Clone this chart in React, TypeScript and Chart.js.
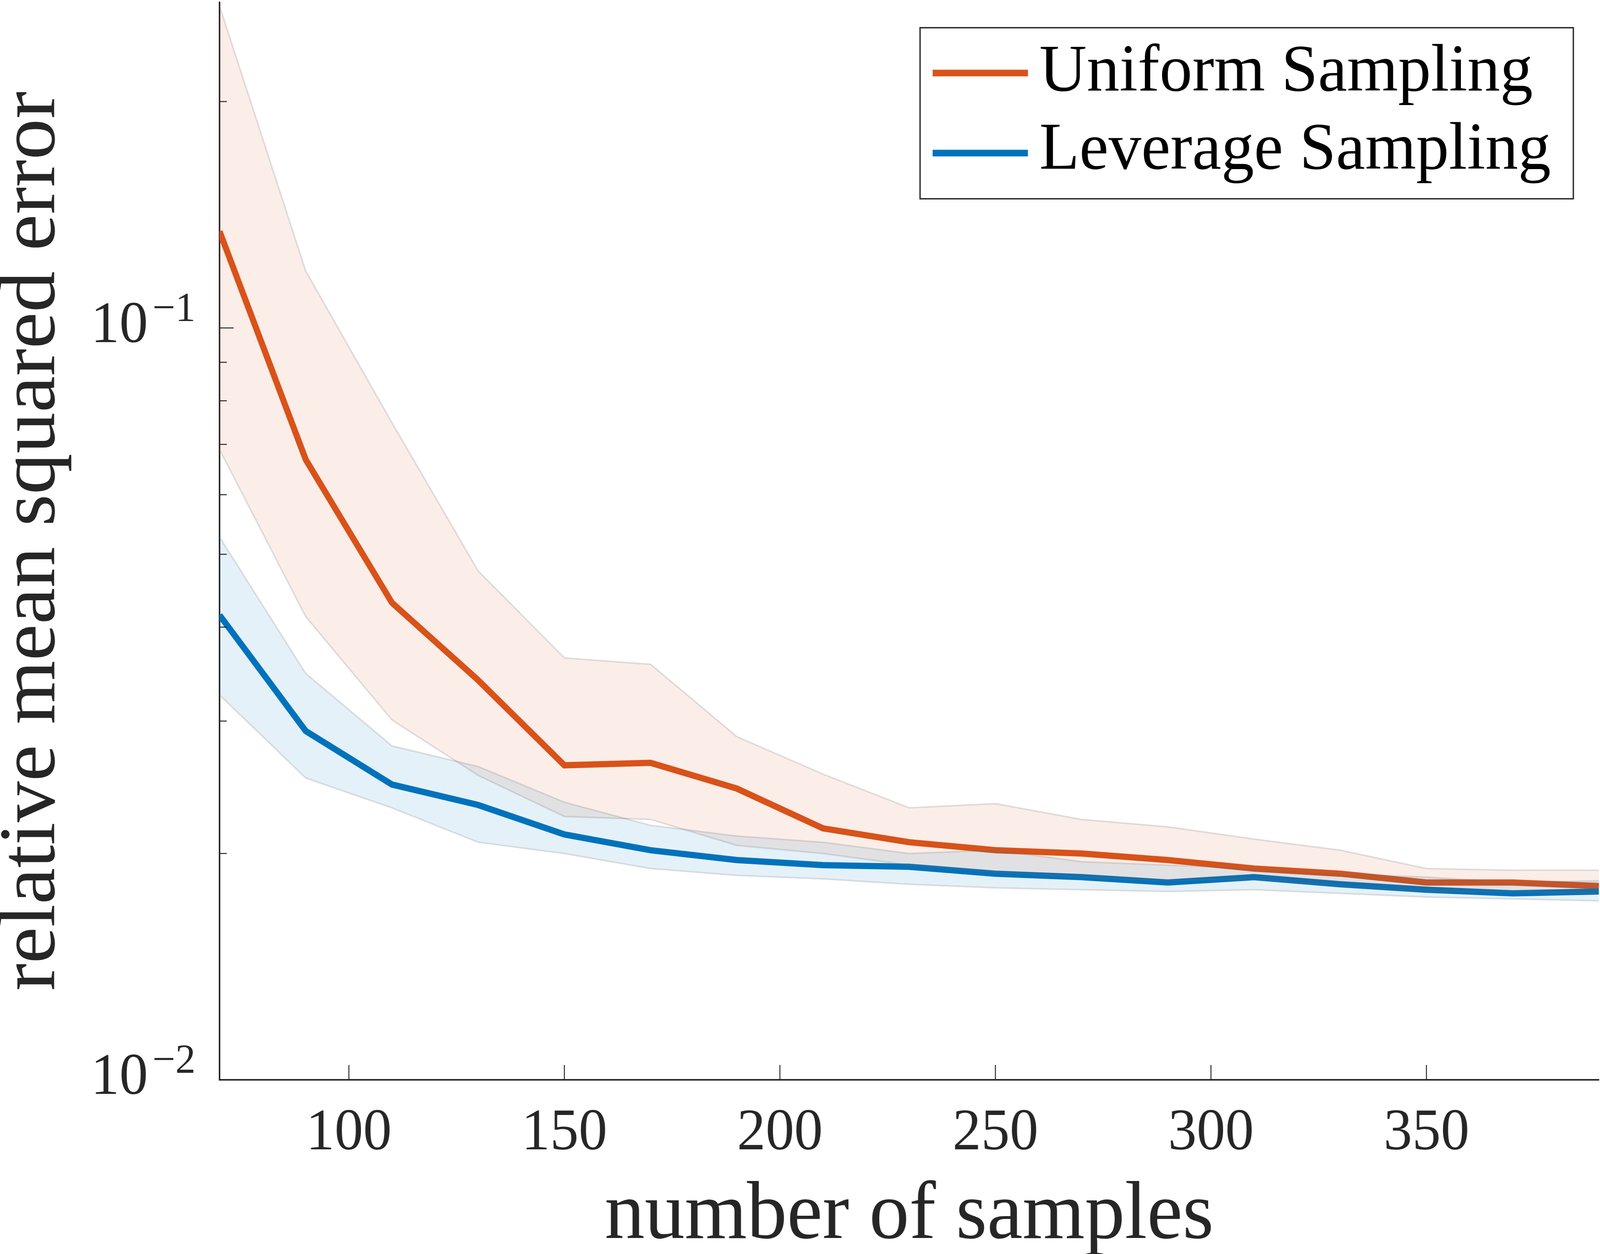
import { useEffect, useRef } from 'react';
import { Chart, registerables } from 'chart.js';
Chart.register(...registerables);

// sample counts on the x axis
const sampleCounts = [70, 90, 110, 130, 150, 170, 190, 210, 230, 250, 270, 290, 310, 330, 350, 370, 390];

// uniform sampling: mean and band
const uniformMean = [0.1344, 0.0668, 0.0431, 0.034, 0.0262, 0.0264, 0.0244, 0.0216, 0.0207, 0.0202, 0.02, 0.0196, 0.0191, 0.0188, 0.0183, 0.0183, 0.0181];
const uniformUpper = [0.268, 0.119, 0.0748, 0.0475, 0.0364, 0.0357, 0.0286, 0.0255, 0.023, 0.0233, 0.0222, 0.0217, 0.0209, 0.0202, 0.0191, 0.019, 0.019];
const uniformLower = [0.0689, 0.0413, 0.0301, 0.0254, 0.0224, 0.0222, 0.0205, 0.02, 0.0193, 0.0189, 0.0186, 0.0184, 0.0185, 0.0181, 0.0178, 0.0178, 0.0177];

// leverage sampling: mean and band
const leverageMean = [0.0415, 0.0291, 0.0247, 0.0232, 0.0212, 0.0202, 0.0196, 0.0193, 0.0192, 0.0188, 0.0186, 0.0183, 0.0186, 0.0182, 0.0179, 0.0177, 0.0178];
const leverageUpper = [0.0527, 0.0347, 0.0278, 0.0261, 0.0234, 0.0218, 0.0211, 0.0207, 0.02, 0.0202, 0.0195, 0.0193, 0.0191, 0.0188, 0.0186, 0.0183, 0.0184];
const leverageLower = [0.0325, 0.0252, 0.023, 0.0207, 0.02, 0.0191, 0.0187, 0.0185, 0.0182, 0.018, 0.0179, 0.0178, 0.0179, 0.0177, 0.0175, 0.0174, 0.0173];

const xTicks = [100, 150, 200, 250, 300, 350];
const yTicks = [0.01, 0.02, 0.03, 0.04, 0.05, 0.06, 0.07, 0.08, 0.09, 0.1, 0.2];

const W = 4198;
const H = 3211;
const AXIS = '#262626';
const FONT = "'Liberation Serif', 'DejaVu Serif', serif";
const ORANGE = '#D95319';
const BLUE = '#0072BD';

const pts = (ys: number[]) => ys.map((y, i) => ({ x: sampleCounts[i], y }));

const isPow10 = (v: number) => Math.abs(Math.log10(v) - Math.round(Math.log10(v))) < 1e-9;

const axisDecor = {
  id: 'axisDecor',
  afterDatasetsDraw(chart: any) {
    const { ctx, chartArea, scales } = chart;
    const xs = scales.x;
    const ys = scales.y;
    ctx.save();
    ctx.strokeStyle = AXIS;
    ctx.lineWidth = 2.5;
    xTicks.forEach((v) => {
      const px = xs.getPixelForValue(v);
      ctx.beginPath();
      ctx.moveTo(px, chartArea.bottom);
      ctx.lineTo(px, chartArea.bottom - 38);
      ctx.stroke();
    });
    yTicks.forEach((v) => {
      const py = ys.getPixelForValue(v);
      const len = isPow10(v) ? 37 : 19;
      ctx.beginPath();
      ctx.moveTo(chartArea.left, py);
      ctx.lineTo(chartArea.left + len, py);
      ctx.stroke();
    });
    ctx.restore();
  },
  afterDraw(chart: any) {
    const { ctx, chartArea, scales } = chart;
    const xs = scales.x;
    const ys = scales.y;
    ctx.save();
    ctx.fillStyle = AXIS;
    // x tick labels
    ctx.font = `150px ${FONT}`;
    ctx.textAlign = 'center';
    ctx.textBaseline = 'alphabetic';
    xTicks.forEach((v) => {
      ctx.fillText(String(v), xs.getPixelForValue(v), 2943);
    });
    // y tick labels, only the decades
    yTicks.filter(isPow10).forEach((v) => {
      const py = ys.getPixelForValue(v);
      const exp = '\u2212' + String(Math.abs(Math.round(Math.log10(v))));
      ctx.textAlign = 'right';
      ctx.font = `106px ${FONT}`;
      const supW = ctx.measureText(exp).width;
      ctx.fillText(exp, 513, py - 18);
      ctx.font = `150px ${FONT}`;
      ctx.fillText('10', 513 - supW - 12, py + 36);
    });
    // axis titles
    ctx.font = `210px ${FONT}`;
    ctx.textAlign = 'center';
    ctx.fillText('number of samples', (chartArea.left + chartArea.right) / 2, 3170);
    ctx.save();
    ctx.translate(142, (chartArea.top + chartArea.bottom) / 2);
    ctx.rotate(-Math.PI / 2);
    ctx.fillText('relative mean squared error', 0, 0);
    ctx.restore();

    // legend
    const box = { l: 2414, t: 71, r: 4128, b: 509 };
    ctx.fillStyle = '#ffffff';
    ctx.fillRect(box.l, box.t, box.r - box.l, box.b - box.t);
    ctx.strokeStyle = AXIS;
    ctx.lineWidth = 3.5;
    ctx.strokeRect(box.l, box.t, box.r - box.l, box.b - box.t);
    const entries = [
      { ds: chart.data.datasets[0], lineY: 187, baseY: 232 },
      { ds: chart.data.datasets[1], lineY: 392, baseY: 432 },
    ];
    ctx.font = `172px ${FONT}`;
    ctx.textAlign = 'left';
    entries.forEach((e) => {
      ctx.strokeStyle = e.ds.borderColor;
      ctx.lineWidth = 17;
      ctx.beginPath();
      ctx.moveTo(2447, e.lineY);
      ctx.lineTo(2697, e.lineY);
      ctx.stroke();
      ctx.fillStyle = '#000000';
      ctx.fillText(e.ds.label, 2727, e.baseY);
    });
    ctx.restore();
  },
};

const App = () => {
  const canvas = useRef<any>(null);
  useEffect(() => {
    const edge = 'rgba(120,120,120,0.22)';
    const newChart = new Chart(canvas.current, {
      type: 'line',
      data: {
        datasets: [
          { label: 'Uniform Sampling', data: pts(uniformMean), borderColor: ORANGE, borderWidth: 16, pointRadius: 0, fill: false, order: 4, borderJoinStyle: 'miter' },
          { label: 'Leverage Sampling', data: pts(leverageMean), borderColor: BLUE, borderWidth: 16, pointRadius: 0, fill: false, order: 3, borderJoinStyle: 'miter' },
          { label: 'uniform lower', data: pts(uniformLower), borderColor: edge, borderWidth: 4, pointRadius: 0, fill: false, order: 2 },
          { label: 'uniform upper', data: pts(uniformUpper), borderColor: edge, borderWidth: 4, pointRadius: 0, fill: '-1', backgroundColor: 'rgba(217,83,25,0.1)', order: 2 },
          { label: 'leverage lower', data: pts(leverageLower), borderColor: edge, borderWidth: 4, pointRadius: 0, fill: false, order: 1 },
          { label: 'leverage upper', data: pts(leverageUpper), borderColor: edge, borderWidth: 4, pointRadius: 0, fill: '-1', backgroundColor: 'rgba(0,114,189,0.1)', order: 1 },
        ] as any,
      },
      options: {
        responsive: false,
        maintainAspectRatio: false,
        animation: false,
        devicePixelRatio: 1,
        layout: { padding: { left: 576, top: 6, right: 3, bottom: H - 2765 } },
        plugins: { legend: { display: false }, tooltip: { enabled: false } },
        scales: {
          x: {
            type: 'linear',
            min: 70,
            max: 390,
            afterBuildTicks: (s: any) => { s.ticks = xTicks.map((value) => ({ value })); },
            ticks: { display: false },
            grid: { display: false, drawTicks: false },
            border: { display: true, color: AXIS, width: 4 },
          },
          y: {
            type: 'logarithmic',
            min: 0.01,
            max: 0.271,
            afterBuildTicks: (s: any) => { s.ticks = yTicks.map((value) => ({ value })); },
            ticks: { display: false },
            grid: { display: false, drawTicks: false },
            border: { display: true, color: AXIS, width: 4 },
          },
        },
      },
      plugins: [axisDecor],
    });
    return () => newChart.destroy();
  }, []);
  // the bitmap is drawn at 4198x3211 and shown stretched to whatever the viewport is
  return (
    <div style={{ position: 'fixed', left: 0, top: 0, width: '100vw', height: '100vh', background: '#ffffff', overflow: 'hidden' }}>
      <canvas ref={canvas} width={W} height={H} style={{ display: 'block', width: '100%', height: '100%' }}></canvas>
    </div>
  );
};

export default App;
